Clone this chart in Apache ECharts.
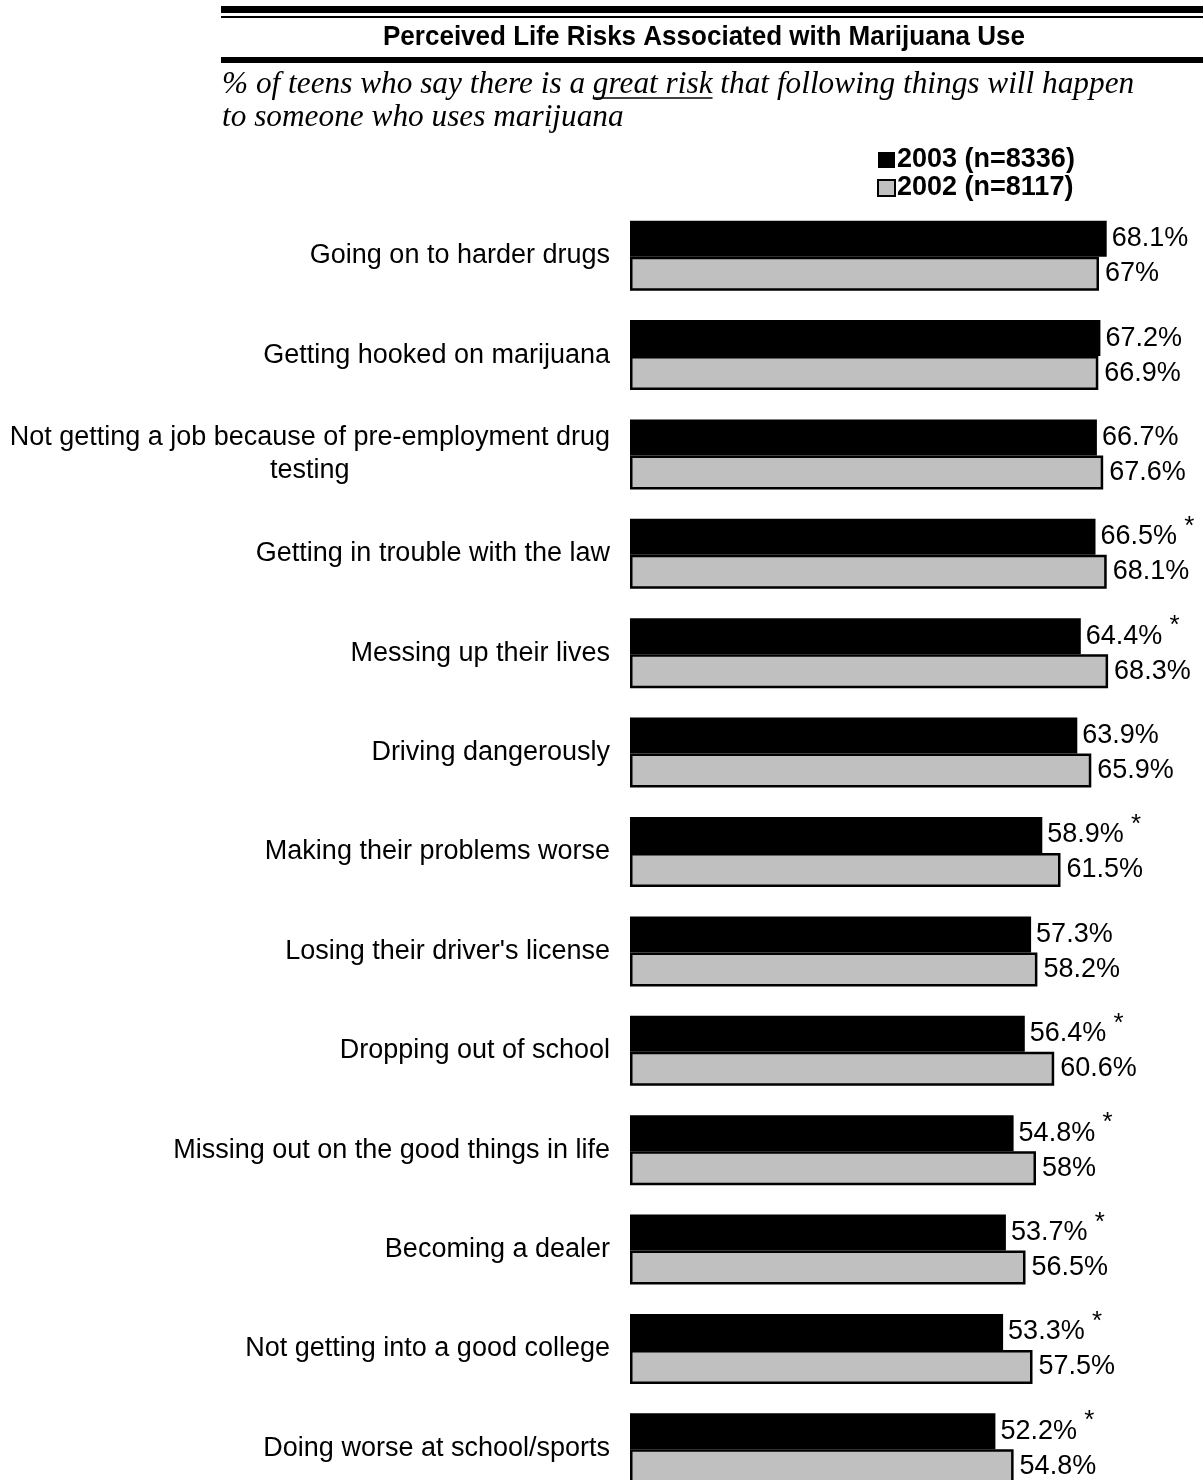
<!DOCTYPE html>
<html>
<head>
<meta charset="utf-8">
<script src="https://cdn.jsdelivr.net/npm/echarts@6/dist/echarts.min.js"></script>
<style>
html,body{margin:0;padding:0;background:#fff;overflow:hidden;}
#chart{width:1203px;height:1480px;}
</style>
</head>
<body>
<div id="chart"></div>
<script>
var categories = [
  'Going on to harder drugs',
  'Getting hooked on marijuana',
  'Not getting a job because of pre-employment drug\ntesting',
  'Getting in trouble with the law',
  'Messing up their lives',
  'Driving dangerously',
  'Making their problems worse',
  "Losing their driver's license",
  'Dropping out of school',
  'Missing out on the good things in life',
  'Becoming a dealer',
  'Not getting into a good college',
  'Doing worse at school/sports'
];
var values2003 = [68.1, 67.2, 66.7, 66.5, 64.4, 63.9, 58.9, 57.3, 56.4, 54.8, 53.7, 53.3, 52.2];
var values2002 = [67, 66.9, 67.6, 68.1, 68.3, 65.9, 61.5, 58.2, 60.6, 58, 56.5, 57.5, 54.8];
var significant = [false, false, false, true, true, false, true, false, true, true, true, true, true];
var seriesNames = ['2003 (n=8336)', '2002 (n=8117)'];
var titleText = 'Perceived Life Risks Associated with Marijuana Use';
var subPrefix = '% of teens who say there is a ';
var subUnder = 'great risk';
var subSuffix = ' that following things will happen';
var subLine2 = 'to someone who uses marijuana';

var SANS = '"Liberation Sans", Arial, sans-serif';
var SERIF = '"Liberation Serif", "Times New Roman", serif';

var chart = echarts.init(document.getElementById('chart'), null, {renderer: 'canvas'});

// measurements for non-data decoration (title condensing, underline)
var mctx = document.createElement('canvas').getContext('2d');
var subFont = 'italic 31.3px ' + SERIF;
mctx.font = subFont;
var subX = 222;
var preW = mctx.measureText(subPrefix).width;
var undW = mctx.measureText(subUnder).width;
var titleFont = 'bold 28px ' + SANS;
mctx.font = titleFont;
var titleW = mctx.measureText(titleText).width;
var titleScale = 642 / titleW;

var option = {
  animation: false,
  backgroundColor: '#ffffff',
  legend: {
    orient: 'vertical',
    left: 872,
    top: 141,
    itemWidth: 17,
    itemHeight: 16,
    itemGap: 0,
    icon: 'rect',
    selectedMode: false,
    textStyle: {fontFamily: SANS, fontWeight: 'bold', fontSize: 27, color: '#000', lineHeight: 28, padding: [0, 0, 0, -3]},
    data: seriesNames
  },
  grid: {left: 630, width: 560, top: 206, height: 1292, containLabel: false, outerBoundsMode: 'none'},
  xAxis: {type: 'value', min: 0, max: 80, show: false},
  yAxis: {
    type: 'category',
    inverse: true,
    data: categories,
    axisLine: {show: false},
    axisTick: {show: false},
    axisLabel: {
      interval: 0,
      margin: 20,
      color: '#000',
      fontFamily: SANS,
      fontSize: 27,
      lineHeight: 33,
      align: 'right',
      formatter: function (v) {
        if (v.indexOf('\n') >= 0) {
          return v.split('\n').map(function (s) { return '{c|' + s + '}'; }).join('\n');
        }
        return v;
      },
      rich: {
        c: {align: 'center', fontFamily: SANS, fontSize: 27, color: '#000', lineHeight: 33}
      }
    }
  },
  series: [
    {
      name: seriesNames[0],
      type: 'bar',
      data: values2003,
      barWidth: 36,
      barGap: '0%',
      itemStyle: {color: '#000000', borderColor: '#000000', borderWidth: 0},
      label: {
        show: true,
        position: 'right',
        distance: 5,
        color: '#000',
        fontFamily: SANS,
        fontSize: 27,
        formatter: function (p) {
          var t = '{v|' + p.value + '%}';
          if (significant[p.dataIndex]) t += '{s| *}';
          return t;
        },
        rich: {
          v: {fontFamily: SANS, fontSize: 27, color: '#000', lineHeight: 46},
          s: {fontFamily: SANS, fontSize: 26, color: '#000', verticalAlign: 'top', lineHeight: 26}
        }
      },
      z: 3
    },
    {
      name: seriesNames[1],
      type: 'bar',
      data: values2002,
      barWidth: 34,
      barGap: '0%',
      itemStyle: {color: '#c0c0c0', borderColor: '#000000', borderWidth: 2.5},
      label: {
        show: true,
        position: 'right',
        distance: 6,
        color: '#000',
        fontFamily: SANS,
        fontSize: 27,
        formatter: function (p) { return p.value + '%'; }
      },
      z: 2
    }
  ],
  graphic: [
    {type: 'rect', shape: {x: 221, y: 6, width: 990, height: 7}, style: {fill: '#000'}},
    {type: 'rect', shape: {x: 221, y: 16, width: 990, height: 2}, style: {fill: '#000'}},
    {type: 'rect', shape: {x: 221, y: 57, width: 990, height: 6}, style: {fill: '#000'}},
    {type: 'text', x: 704, y: 37, scaleX: titleScale, style: {text: titleText, fill: '#000', font: titleFont, textAlign: 'center', textVerticalAlign: 'middle'}},
    {type: 'text', x: subX, y: 85, style: {text: subPrefix + subUnder + subSuffix, fill: '#000', font: subFont, textAlign: 'left', textVerticalAlign: 'middle'}},
    {type: 'text', x: subX, y: 118, style: {text: subLine2, fill: '#000', font: subFont, textAlign: 'left', textVerticalAlign: 'middle'}},
    {type: 'line', shape: {x1: subX + preW, y1: 98, x2: subX + preW + undW, y2: 98}, style: {stroke: '#000', lineWidth: 1.5}}
  ]
};
chart.setOption(option);
</script>
</body>
</html>
